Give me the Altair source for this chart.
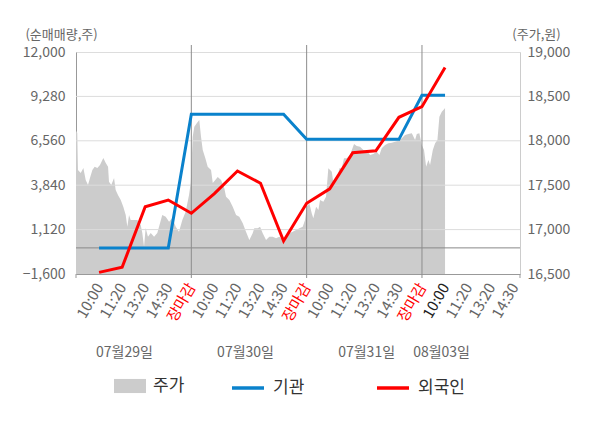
import altair as alt
import pandas as pd

# ---------------- data ----------------
# x position: day index + fraction of the day (0.2 = 10:00, 0.4 = 11:20, 0.6 = 13:20, 0.8 = 14:30, 1.0 = 장마감)
price_t = [0.000, 0.011, 0.017, 0.041, 0.064, 0.084, 0.104, 0.121, 0.142, 0.162,
           0.185, 0.208, 0.237, 0.258, 0.278, 0.286, 0.306, 0.330, 0.344, 0.364,
           0.388, 0.410, 0.431, 0.445, 0.460, 0.474, 0.503, 0.532, 0.561, 0.575,
           0.590, 0.604, 0.624, 0.648, 0.677, 0.705, 0.729, 0.748, 0.778, 0.807,
           0.835, 0.865, 0.893, 0.922, 0.951, 0.980, 0.995,
           1.012, 1.026, 1.047, 1.069, 1.084, 1.099, 1.121, 1.142, 1.171, 1.186,
           1.208, 1.229, 1.258, 1.286, 1.301, 1.330, 1.359, 1.388, 1.416, 1.446,
           1.474, 1.503, 1.532, 1.546, 1.576, 1.596, 1.619, 1.648, 1.676, 1.706,
           1.735, 1.763, 1.793, 1.821, 1.850, 1.879, 1.908, 1.937, 1.966, 1.986,
           2.001, 2.023, 2.044, 2.058, 2.082, 2.102, 2.116, 2.145, 2.168, 2.188,
           2.218, 2.232, 2.261, 2.284, 2.304, 2.324, 2.348, 2.376, 2.411, 2.434,
           2.463, 2.492, 2.521, 2.550, 2.578, 2.608, 2.631, 2.651, 2.680, 2.709,
           2.738, 2.767, 2.795, 2.825, 2.853, 2.882, 2.912, 2.940, 2.955, 2.977,
           2.998, 3.018, 3.036, 3.056, 3.070, 3.094, 3.114, 3.134, 3.151, 3.172,
           3.192, 3.200]
price = [18114, 18088, 17671, 17637, 17694, 17558, 17502, 17581, 17671, 17708,
         17694, 17727, 17806, 17750, 17708, 17539, 17502, 17581, 17446, 17390,
         17333, 17258, 17164, 17033, 17164, 17108, 17108, 17108, 17052, 16962,
         16807, 17018, 16920, 16962, 16920, 16962, 17074, 17164, 17145, 17089,
         17131, 17033, 16976, 17108, 17202, 17390, 17525,
         18046, 18159, 18197, 18234, 18046, 17896, 17806, 17708, 17671, 17525,
         17558, 17592, 17558, 17465, 17370, 17333, 17258, 17164, 17145, 17071,
         16976, 16883, 16958, 17015, 17015, 17033, 16958, 16883, 16920, 16920,
         16902, 16920, 16883, 16902, 16958, 16976, 16995, 17015, 17033, 17108,
         17258, 17296, 17184, 17127, 17258, 17221, 17333, 17314, 17370, 17690,
         17652, 17521, 17558, 17690, 17690, 17803, 17803, 17840, 17964, 17941,
         17933, 17896, 17888, 17840, 17851, 17877, 17840, 17915, 17953, 17972,
         17979, 17990, 18001, 18028, 18065, 18076, 18084, 18009, 18076, 18084,
         17953, 17896, 17708, 17784, 17727, 17896, 17972, 18009, 18271, 18328,
         18355, 18370]

flow_t = [0.2, 0.4, 0.6, 0.8, 1.0, 1.2, 1.4, 1.6, 1.8, 2.0,
          2.2, 2.4, 2.6, 2.8, 3.0, 3.2]
inst = [0, 0, 0, 0, 8190, 8190, 8190, 8190, 8190, 6650,
        6650, 6650, 6650, 6650, 9350, 9350]
foreign = [-1500, -1190, 2520, 2930, 2120, 3320, 4710, 3960, 420, 2730,
           3620, 5830, 5950, 8000, 8650, 11050]

x_tick_pos = [0.2, 0.4, 0.6, 0.8, 1.0, 1.2, 1.4, 1.6, 1.8, 2.0,
              2.2, 2.4, 2.6, 2.8, 3.0, 3.2, 3.4, 3.6, 3.8]
x_tick_text = ["10:00", "11:20", "13:20", "14:30", "장마감"]

date_pos = [0.42, 1.47, 2.52, 3.17]
date_text = ["07월29일", "07월30일", "07월31일", "08월03일"]

day_sep = [1, 2, 3]
edge_ticks = [0, 3.85]

left_ticks = [-1600, 1120, 3840, 6560, 9280, 12000]
right_ticks = [16500, 17000, 17500, 18000, 18500, 19000]
grid_vals = [1120, 3840, 6560, 9280]

series_names = ["기관", "외국인"]
series_colors = ["#0a82cc", "#ff0000"]
FONT = "Noto Sans CJK KR"

# ---------------- tables ----------------
price_df = pd.DataFrame({"t": price_t, "price": price, "base": 16500, "legend": "주가"})
flow_df = pd.DataFrame({
    "t": flow_t * 2,
    "v": inst + foreign,
    "series": [series_names[0]] * len(flow_t) + [series_names[1]] * len(flow_t),
})
date_df = pd.DataFrame({"t": date_pos, "label": date_text})
sep_df = pd.DataFrame({"t": day_sep})
edge_df = pd.DataFrame({"t": edge_ticks})
grid_df = pd.DataFrame({"v": grid_vals})

W, H = 444, 222

x_scale = alt.Scale(domain=[0, 3.85], nice=False, zero=False)
yl_scale = alt.Scale(domain=[-1600, 12000], nice=False, zero=False)
yr_scale = alt.Scale(domain=[16500, 19000], nice=False, zero=False)

label_map = "[" + ",".join("'%s'" % s for s in x_tick_text) + "]"
x_axis = alt.Axis(
    values=x_tick_pos,
    labelExpr=label_map + "[(round(datum.value*5)+4) % 5]",
    labelAngle=-60,
    labelAlign="right",
    labelBaseline="middle",
    labelFontSize=15,
    labelFont=FONT,
    labelPadding=10,
    labelFlush=False,
    labelOverlap=False,
    labelColor={"condition": [
        {"test": "round(datum.value*5) % 5 == 0", "value": "#ff0000"},
        {"test": "abs(datum.value - 3.2) < 0.01", "value": "#222222"},
    ], "value": "#666666"},
    ticks=False,
    grid=False,
    domainColor="#999999",
    title=None,
)

left_axis = alt.Axis(
    orient="left", values=left_ticks, format=",d", ticks=False, grid=False,
    labelPadding=11, labelFontSize=14, labelColor="#666666", labelFont=FONT,
    domainColor="#999999", labelFlush=False,
    title="(순매매량,주)", titleAngle=0, titleX=-15, titleY=-18,
    titleAlign="center", titleBaseline="middle", titleFontSize=13,
    titleColor="#666666", titleFontWeight="normal", titleFont=FONT,
)
right_axis = alt.Axis(
    orient="right", values=right_ticks, format=",d", ticks=False, grid=False,
    labelPadding=7, labelFontSize=14, labelColor="#666666", labelFont=FONT,
    domainColor="#cccccc", labelFlush=False,
    title="(주가,원)", titleAngle=0, titleX=16, titleY=-18,
    titleAlign="center", titleBaseline="middle", titleFontSize=13,
    titleColor="#666666", titleFontWeight="normal", titleFont=FONT,
)


def X():
    return alt.X("t:Q", scale=x_scale, axis=x_axis)


def YL(field):
    return alt.Y(field, scale=yl_scale, axis=left_axis)


area = alt.Chart(price_df).mark_area(clip=True).encode(
    x=X(),
    y=alt.Y("price:Q", scale=yr_scale, axis=right_axis),
    y2="base:Q",
    fill=alt.Fill("legend:N", scale=alt.Scale(domain=["주가"], range=["#cccccc"]),
                  legend=alt.Legend(orient="none", legendX=38, legendY=318, title=None,
                                    symbolType="M-1,-0.44H1V0.44H-1Z", symbolSize=1024,
                                    symbolStrokeWidth=0, labelFontSize=17, labelColor="#333333",
                                    labelFont=FONT, labelOffset=7)),
)

grid = alt.Chart(grid_df).mark_rule(color="#dcdcdc", strokeWidth=1).encode(y=YL("v:Q"))
zero = alt.Chart(pd.DataFrame({"v": [0]})).mark_rule(color="#888888", strokeWidth=1).encode(y=YL("v:Q"))
seps = alt.Chart(sep_df).mark_rule(color="#8c8c8c", strokeWidth=1).encode(
    x=X(), y=alt.value(-7), y2=alt.value(H + 4))
edges = alt.Chart(edge_df).mark_rule(color="#999999", strokeWidth=1).encode(
    x=X(), y=alt.value(H), y2=alt.value(H + 4))

lines = alt.Chart(flow_df).mark_line(strokeWidth=3).encode(
    x=X(),
    y=YL("v:Q"),
    color=alt.Color("series:N", scale=alt.Scale(domain=series_names, range=series_colors),
                    legend=alt.Legend(orient="none", legendX=154, legendY=318, title=None,
                                      direction="horizontal", symbolType="stroke", symbolSize=1024,
                                      symbolStrokeWidth=3.5, labelFontSize=17, labelColor="#333333",
                                      labelFont=FONT, labelOffset=7, columnPadding=65)),
    order="t:Q",
)

dates = alt.Chart(date_df).mark_text(fontSize=14, color="#666666", font=FONT,
                                     align="center", baseline="middle").encode(
    x=X(), y=alt.value(301), text="label:N")

inner = alt.layer(grid, zero, seps, edges, lines, dates)

chart = alt.layer(area, inner).resolve_scale(y="independent").properties(
    width=W, height=H,
    autosize=alt.AutoSizeParams(type="none"),
    padding={"left": 68, "top": 44, "right": 72, "bottom": 146},
).configure_view(fill="#f5f5f5", stroke=None).configure(font=FONT)

chart.save("out.html", embed_options={"renderer": "svg", "actions": False})
